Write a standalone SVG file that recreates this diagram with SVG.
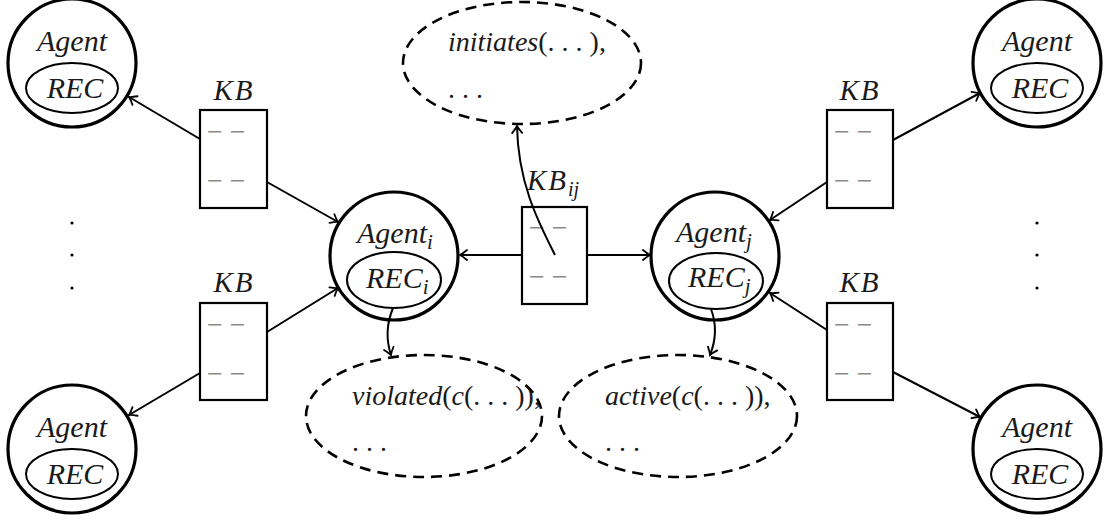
<svg xmlns="http://www.w3.org/2000/svg" width="1111" height="523" viewBox="0 0 1111 523">
<style>
  .agent { fill: none; stroke: #000; stroke-width: 3.2; }
  .rec { fill: none; stroke: #000; stroke-width: 2; }
  .kb { fill: #fff; stroke: #000; stroke-width: 2.2; }
  .set { fill: none; stroke: #000; stroke-width: 2.6; stroke-dasharray: 11 7; }
  .t { font-family: "Liberation Serif", serif; font-style: italic; font-size: 28px; fill: #1a1a1a; }
  .a { font-size: 30px; }
  .up { font-style: normal; }
  .kbl { font-family: "Liberation Serif", serif; font-style: italic; font-size: 29px; letter-spacing: 2px; fill: #1a1a1a; }
  .dash { font-family: "Liberation Serif", serif; font-size: 28px; fill: #8a8a8a; }
  .conn { fill: none; stroke: #000; stroke-width: 2; }
  .dot { fill: #000; }
</style>
<defs>
  <marker id="arr" viewBox="-10 -8 12 16" refX="0" refY="0" markerWidth="12" markerHeight="16" markerUnits="userSpaceOnUse" orient="auto">
    <path d="M-7,-5 Q-2.5,-1.2 0,0 Q-2.5,1.2 -7,5" fill="none" stroke="#000" stroke-width="1.8" stroke-linecap="round"/>
  </marker>
</defs>

<g id="agent-tl">
  <circle class="agent" cx="72" cy="63" r="64"/>
  <ellipse class="rec" cx="72" cy="88" rx="46" ry="25"/>
  <text class="t a" x="72" y="51" text-anchor="middle">Agent</text>
  <text class="t a" x="75" y="98" text-anchor="middle">REC</text>
</g>
<g id="agent-bl">
  <circle class="agent" cx="72" cy="449" r="64"/>
  <ellipse class="rec" cx="72" cy="474" rx="46" ry="25"/>
  <text class="t a" x="72" y="437" text-anchor="middle">Agent</text>
  <text class="t a" x="75" y="484" text-anchor="middle">REC</text>
</g>
<g id="agent-tr">
  <circle class="agent" cx="1037" cy="63" r="64"/>
  <ellipse class="rec" cx="1037" cy="88" rx="46" ry="25"/>
  <text class="t a" x="1037" y="51" text-anchor="middle">Agent</text>
  <text class="t a" x="1040" y="98" text-anchor="middle">REC</text>
</g>
<g id="agent-br">
  <circle class="agent" cx="1037" cy="449" r="64"/>
  <ellipse class="rec" cx="1037" cy="474" rx="46" ry="25"/>
  <text class="t a" x="1037" y="437" text-anchor="middle">Agent</text>
  <text class="t a" x="1040" y="484" text-anchor="middle">REC</text>
</g>
<g id="agent-i">
  <circle class="agent" cx="394" cy="256" r="64"/>
  <ellipse class="rec" cx="394" cy="280" rx="47" ry="28"/>
  <text class="t a" x="357" y="243">Agent<tspan font-size="21" dy="6">i</tspan></text>
  <text class="t a" x="366" y="288">REC<tspan font-size="21" dy="6">i</tspan></text>
</g>
<g id="agent-j">
  <circle class="agent" cx="715" cy="256" r="64"/>
  <ellipse class="rec" cx="716" cy="281" rx="47" ry="28"/>
  <text class="t a" x="676" y="242">Agent<tspan font-size="21" dy="6">j</tspan></text>
  <text class="t a" x="688" y="287">REC<tspan font-size="21" dy="6">j</tspan></text>
</g>

<g id="kb-tl">
  <text class="kbl" x="234" y="100" text-anchor="middle">KB</text>
  <rect class="kb" x="200" y="110" width="67" height="98"/>
  <text class="dash" x="207" y="141">− −</text>
  <text class="dash" x="207" y="190">− −</text>
</g>
<g id="kb-bl">
  <text class="kbl" x="234" y="292" text-anchor="middle">KB</text>
  <rect class="kb" x="200" y="303" width="67" height="97"/>
  <text class="dash" x="207" y="334">− −</text>
  <text class="dash" x="207" y="383">− −</text>
</g>
<g id="kb-tr">
  <text class="kbl" x="860" y="100" text-anchor="middle">KB</text>
  <rect class="kb" x="827" y="110" width="66" height="98"/>
  <text class="dash" x="834" y="141">− −</text>
  <text class="dash" x="834" y="190">− −</text>
</g>
<g id="kb-br">
  <text class="kbl" x="860" y="292" text-anchor="middle">KB</text>
  <rect class="kb" x="827" y="303" width="66" height="97"/>
  <text class="dash" x="834" y="334">− −</text>
  <text class="dash" x="834" y="383">− −</text>
</g>
<g id="kb-ij">
  <text class="kbl" x="527" y="190">KB<tspan font-size="20" dy="6" letter-spacing="0">ij</tspan></text>
  <rect class="kb" x="522" y="207" width="65" height="97"/>
  <text class="dash" x="529" y="237">− −</text>
  <text class="dash" x="529" y="286">− −</text>
</g>

<g id="set-initiates">
  <ellipse class="set" cx="522" cy="63" rx="119" ry="61"/>
  <text class="t" x="448" y="51">initiates<tspan class="up">(. . . ),</tspan></text>
  <text class="t up" x="448" y="98">. . .</text>
</g>
<g id="set-violated">
  <ellipse class="set" cx="424" cy="416" rx="118" ry="61"/>
  <text class="t" x="352" y="405">violated<tspan class="up">(</tspan>c<tspan class="up">(. . . )),</tspan></text>
  <text class="t up" x="352" y="451">. . .</text>
</g>
<g id="set-active">
  <ellipse class="set" cx="678" cy="416" rx="119" ry="61"/>
  <text class="t" x="605" y="405">active<tspan class="up">(</tspan>c<tspan class="up">(. . . )),</tspan></text>
  <text class="t up" x="605" y="451">. . .</text>
</g>

<g id="vdots-left">
  <circle class="dot" cx="72" cy="223" r="1.6"/>
  <circle class="dot" cx="72" cy="255" r="1.6"/>
  <circle class="dot" cx="72" cy="288" r="1.6"/>
</g>
<g id="vdots-right">
  <circle class="dot" cx="1037" cy="223" r="1.6"/>
  <circle class="dot" cx="1037" cy="255" r="1.6"/>
  <circle class="dot" cx="1037" cy="288" r="1.6"/>
</g>

<g id="connectors">
  <line class="conn" x1="200" y1="139" x2="129" y2="97" marker-end="url(#arr)"/>
  <line class="conn" x1="267" y1="182" x2="338" y2="222" marker-end="url(#arr)"/>
  <line class="conn" x1="200" y1="373" x2="129" y2="415" marker-end="url(#arr)"/>
  <line class="conn" x1="267" y1="332" x2="338" y2="288" marker-end="url(#arr)"/>
  <line class="conn" x1="893" y1="140" x2="980" y2="93" marker-end="url(#arr)"/>
  <line class="conn" x1="827" y1="182" x2="770" y2="220" marker-end="url(#arr)"/>
  <line class="conn" x1="893" y1="372" x2="980" y2="417" marker-end="url(#arr)"/>
  <line class="conn" x1="827" y1="330" x2="770" y2="293" marker-end="url(#arr)"/>
  <line class="conn" x1="522" y1="255" x2="460" y2="255" marker-end="url(#arr)"/>
  <line class="conn" x1="587" y1="255" x2="650" y2="255" marker-end="url(#arr)"/>
  <path class="conn" d="M555,255 C540,225 518,185 517,126" marker-end="url(#arr)"/>
  <path class="conn" d="M393,308 C386,325 386,340 391,355" marker-end="url(#arr)"/>
  <path class="conn" d="M711,309 C717,325 716,340 710,355" marker-end="url(#arr)"/>
</g>
</svg>
